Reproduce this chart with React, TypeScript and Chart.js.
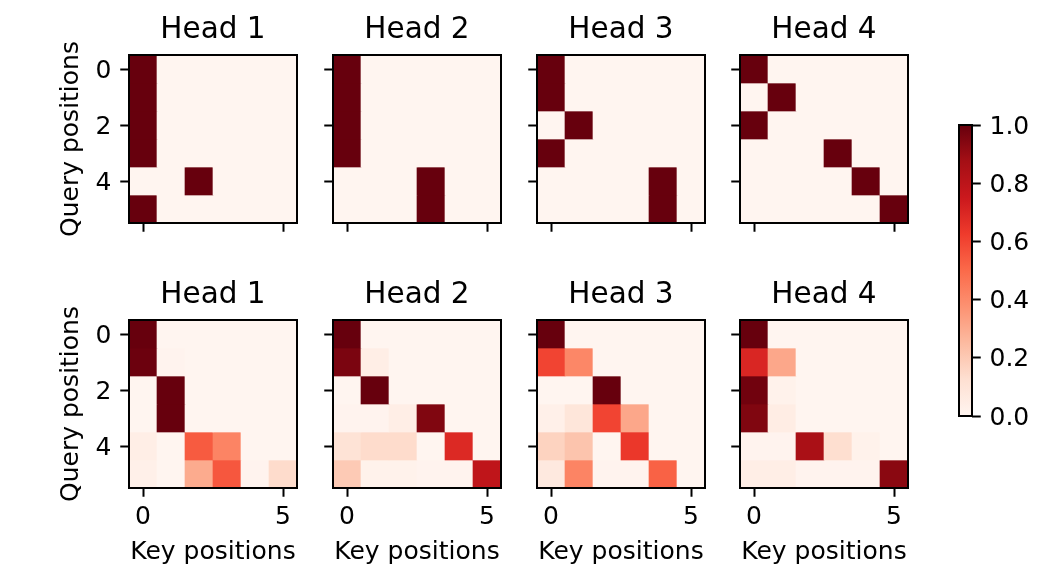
import React, { useEffect, useRef } from 'react';
import { Chart, registerables } from 'chart.js';

Chart.register(...registerables);

// ---------------- data ----------------
const queryPositions = [0, 1, 2, 3, 4, 5];
const keyPositions = ['0', '1', '2', '3', '4', '5'];
const xTickValues = [0, 5];
const yTickValues = [0, 2, 4];
const colorbarTicks = [0, 0.2, 0.4, 0.6, 0.8, 1.0];
const headTitles = ['Head 1', 'Head 2', 'Head 3', 'Head 4'];
const xAxisLabel = 'Key positions';
const yAxisLabel = 'Query positions';

const topHead1 = [
  [1, 0, 0, 0, 0, 0],
  [1, 0, 0, 0, 0, 0],
  [1, 0, 0, 0, 0, 0],
  [1, 0, 0, 0, 0, 0],
  [0, 0, 1, 0, 0, 0],
  [1, 0, 0, 0, 0, 0],
];
const topHead2 = [
  [1, 0, 0, 0, 0, 0],
  [1, 0, 0, 0, 0, 0],
  [1, 0, 0, 0, 0, 0],
  [1, 0, 0, 0, 0, 0],
  [0, 0, 0, 1, 0, 0],
  [0, 0, 0, 1, 0, 0],
];
const topHead3 = [
  [1, 0, 0, 0, 0, 0],
  [1, 0, 0, 0, 0, 0],
  [0, 1, 0, 0, 0, 0],
  [1, 0, 0, 0, 0, 0],
  [0, 0, 0, 0, 1, 0],
  [0, 0, 0, 0, 1, 0],
];
const topHead4 = [
  [1, 0, 0, 0, 0, 0],
  [0, 1, 0, 0, 0, 0],
  [1, 0, 0, 0, 0, 0],
  [0, 0, 0, 1, 0, 0],
  [0, 0, 0, 0, 1, 0],
  [0, 0, 0, 0, 0, 1],
];
const bottomHead1 = [
  [1.0, 0.0, 0.0, 0.0, 0.0, 0.0],
  [0.99, 0.01, 0.0, 0.0, 0.0, 0.0],
  [0.0, 1.0, 0.0, 0.0, 0.0, 0.0],
  [0.0, 1.0, 0.0, 0.0, 0.0, 0.0],
  [0.04, 0.0, 0.54, 0.42, 0.0, 0.0],
  [0.03, 0.0, 0.3, 0.55, 0.01, 0.14],
];
const bottomHead2 = [
  [1.0, 0.0, 0.0, 0.0, 0.0, 0.0],
  [0.96, 0.04, 0.0, 0.0, 0.0, 0.0],
  [0.0, 1.0, 0.0, 0.0, 0.0, 0.0],
  [0.01, 0.01, 0.04, 0.95, 0.0, 0.0],
  [0.11, 0.14, 0.14, 0.0, 0.69, 0.0],
  [0.2, 0.02, 0.02, 0.01, 0.01, 0.79],
];
const bottomHead3 = [
  [1.0, 0.0, 0.0, 0.0, 0.0, 0.0],
  [0.6, 0.41, 0.0, 0.0, 0.0, 0.0],
  [0.0, 0.0, 1.0, 0.0, 0.0, 0.0],
  [0.03, 0.09, 0.6, 0.31, 0.0, 0.0],
  [0.17, 0.22, 0.0, 0.64, 0.0, 0.0],
  [0.07, 0.42, 0.01, 0.01, 0.52, 0.0],
];
const bottomHead4 = [
  [1.0, 0.0, 0.0, 0.0, 0.0, 0.0],
  [0.7, 0.31, 0.0, 0.0, 0.0, 0.0],
  [0.98, 0.02, 0.0, 0.0, 0.0, 0.0],
  [0.95, 0.05, 0.0, 0.0, 0.0, 0.0],
  [0.01, 0.01, 0.86, 0.13, 0.02, 0.0],
  [0.04, 0.04, 0.01, 0.01, 0.01, 0.93],
];

// ---------------- style ----------------
const redsStops = ['#fff5f0', '#fee0d2', '#fcbba1', '#fc9272', '#fb6a4a', '#ef3b2c', '#cb181d', '#a50f15', '#67000d'];
const FONT_FAMILY = 'DejaVu Sans';
const LABEL_SIZE = 25;
const TITLE_SIZE = 29.5;
const LINE_W = 2;
const TICK_LEN = 8.75;
const TICK_PAD = 8.75;

const PANEL = 168;
const LEFT_M = 100;
const TOP_M = 55;
const RIGHT_M = 20;
const BOTTOM_M = 90;
const panelLefts = [129, 333, 537, 740];
const panelTops = [55, 320];

function hexToRgb(h: string) {
  return [parseInt(h.slice(1, 3), 16), parseInt(h.slice(3, 5), 16), parseInt(h.slice(5, 7), 16)];
}
function redsColor(v: number) {
  const t = Math.max(0, Math.min(1, v)) * (redsStops.length - 1);
  const i = Math.min(Math.floor(t), redsStops.length - 2);
  const f = t - i;
  const a = hexToRgb(redsStops[i]);
  const b = hexToRgb(redsStops[i + 1]);
  const c = a.map((x, k) => Math.round(x + (b[k] - x) * f));
  return `rgb(${c[0]},${c[1]},${c[2]})`;
}

const framePlugin = {
  id: 'frame',
  afterDraw(chart: any) {
    const { ctx, chartArea: a } = chart;
    ctx.save();
    ctx.strokeStyle = '#000';
    ctx.lineWidth = LINE_W;
    ctx.strokeRect(a.left, a.top, a.right - a.left, a.bottom - a.top);
    ctx.restore();
  },
};

const labelFont = { family: FONT_FAMILY, size: LABEL_SIZE, weight: 'normal' as const, lineHeight: 1.2 };
const titleFont = { family: FONT_FAMILY, size: TITLE_SIZE, weight: 'normal' as const, lineHeight: 1.2 };

function HeatmapPanel(props: { weights: number[][]; title: string; firstCol: boolean; bottomRow: boolean; left: number; top: number }) {
  const ref = useRef<HTMLCanvasElement>(null);
  const { weights, title, firstCol, bottomRow, left, top } = props;
  const W = LEFT_M + PANEL + RIGHT_M;
  const H = TOP_M + PANEL + BOTTOM_M;
  useEffect(() => {
    if (!ref.current) return;
    const datasets = queryPositions.map((r) => ({
      data: keyPositions.map(() => [r - 0.5, r + 0.5]),
      backgroundColor: weights[r].map(redsColor),
      borderWidth: 0,
      barPercentage: 1,
      categoryPercentage: 1,
      grouped: false,
    }));
    const titlePadTop = 12.8;
    const chart = new Chart(ref.current, {
      type: 'bar',
      data: { labels: keyPositions, datasets: datasets as any },
      options: {
        responsive: false,
        animation: false,
        events: [],
        layout: { padding: { left: 0, right: RIGHT_M, top: 0, bottom: 0 } },
        plugins: {
          legend: { display: false },
          tooltip: { enabled: false },
          title: {
            display: true,
            text: title,
            color: '#000',
            font: titleFont,
            fullSize: false,
            padding: { top: titlePadTop, bottom: TOP_M - titlePadTop - TITLE_SIZE * 1.2 },
          },
        },
        scales: {
          x: {
            type: 'category',
            offset: true,
            border: { display: false },
            grid: { offset: false, drawOnChartArea: false, drawTicks: true, tickLength: TICK_LEN, tickColor: '#000', tickWidth: LINE_W },
            ticks: { display: bottomRow, autoSkip: false, maxRotation: 0, padding: 6, color: '#000', font: labelFont },
            title: { display: bottomRow, text: xAxisLabel, color: '#000', font: labelFont, padding: { top: 0, bottom: 11 } },
            afterBuildTicks: (s: any) => {
              s.ticks = s.ticks.filter((t: any) => xTickValues.includes(t.value));
            },
            afterFit: (s: any) => {
              s.height = BOTTOM_M;
            },
          },
          y: {
            type: 'linear',
            reverse: true,
            min: -0.5,
            max: 5.5,
            border: { display: false },
            grid: { drawOnChartArea: false, drawTicks: true, tickLength: TICK_LEN, tickColor: '#000', tickWidth: LINE_W },
            ticks: { display: firstCol, padding: TICK_PAD, labelOffset: 2, color: '#000', font: labelFont },
            title: { display: firstCol, text: yAxisLabel, color: '#000', font: labelFont, padding: { top: 27, bottom: 0 } },
            afterBuildTicks: (s: any) => {
              s.ticks = yTickValues.map((v) => ({ value: v }));
            },
            afterFit: (s: any) => {
              s.width = LEFT_M;
            },
          },
        },
      } as any,
      plugins: [framePlugin],
    });
    return () => chart.destroy();
  }, []);
  return (
    <canvas
      ref={ref}
      width={W}
      height={H}
      style={{ position: 'absolute', left: left - LEFT_M, top: top - TOP_M, width: W, height: H }}
    />
  );
}

function Colorbar() {
  const ref = useRef<HTMLCanvasElement>(null);
  const cbLeft = 959;
  const cbTop = 125;
  const cbW = 13;
  const cbH = 291;
  const padL = 10;
  const padT = 30;
  const axisW = 80;
  const W = padL + cbW + axisW;
  const H = padT + cbH + padT;
  useEffect(() => {
    if (!ref.current) return;
    const chart = new Chart(ref.current, {
      type: 'bar',
      data: {
        labels: [''],
        datasets: [
          {
            data: [[0, 1]] as any,
            borderWidth: 0,
            barPercentage: 1,
            categoryPercentage: 1,
            backgroundColor: (c: any) => {
              const a = c.chart.chartArea;
              if (!a) return redsStops[0];
              const g = c.chart.ctx.createLinearGradient(0, a.bottom, 0, a.top);
              redsStops.forEach((col, i) => g.addColorStop(i / (redsStops.length - 1), col));
              return g;
            },
          },
        ],
      },
      options: {
        responsive: false,
        animation: false,
        events: [],
        layout: { padding: { left: padL, right: 0, top: padT, bottom: padT } },
        plugins: { legend: { display: false }, tooltip: { enabled: false } },
        scales: {
          x: { display: false, offset: true },
          y: {
            position: 'right',
            min: 0,
            max: 1,
            border: { display: false },
            grid: { drawOnChartArea: false, drawTicks: true, tickLength: TICK_LEN, tickColor: '#000', tickWidth: LINE_W },
            ticks: {
              padding: TICK_PAD,
              labelOffset: 2,
              color: '#000',
              font: labelFont,
              callback: (v: any) => Number(v).toFixed(1),
            },
            afterBuildTicks: (s: any) => {
              s.ticks = colorbarTicks.map((v) => ({ value: v }));
            },
            afterFit: (s: any) => {
              s.width = axisW;
            },
          },
        },
      } as any,
      plugins: [framePlugin],
    });
    return () => chart.destroy();
  }, []);
  return (
    <canvas
      ref={ref}
      width={W}
      height={H}
      style={{ position: 'absolute', left: cbLeft - padL, top: cbTop - padT, width: W, height: H }}
    />
  );
}

const topRow = [topHead1, topHead2, topHead3, topHead4];
const bottomRow = [bottomHead1, bottomHead2, bottomHead3, bottomHead4];

export default function App() {
  return (
    <div style={{ position: 'absolute', left: 0, top: 0, width: 1050, height: 578, background: '#fff', overflow: 'hidden' }}>
      {[topRow, bottomRow].map((row, ri) =>
        row.map((w, ci) => (
          <HeatmapPanel
            key={`${ri}-${ci}`}
            weights={w}
            title={headTitles[ci]}
            firstCol={ci === 0}
            bottomRow={ri === 1}
            left={panelLefts[ci]}
            top={panelTops[ri]}
          />
        ))
      )}
      <Colorbar />
    </div>
  );
}
